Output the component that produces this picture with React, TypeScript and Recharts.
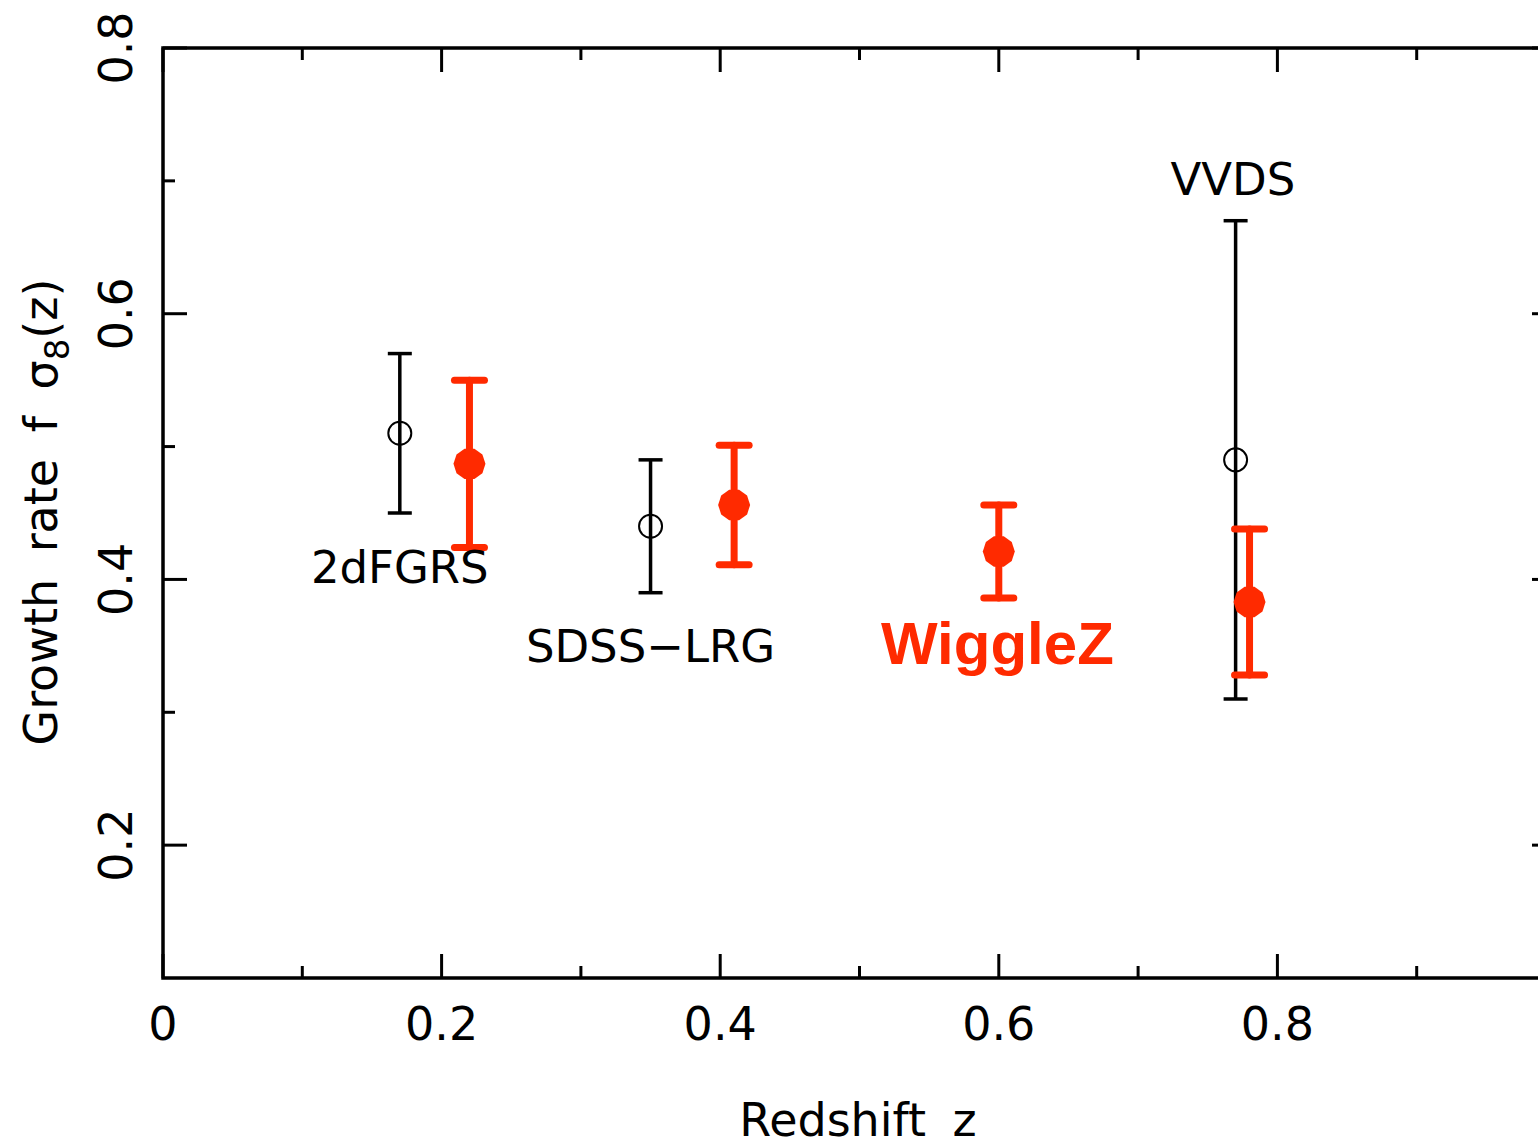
import React from 'react';
import { ScatterChart, Scatter, XAxis, YAxis, ErrorBar, ReferenceArea } from 'recharts';

// ---- data ----
// Earlier surveys (2dFGRS, SDSS-LRG, VVDS)
const priorZ = [0.17, 0.35, 0.77];
const priorFs8 = [0.51, 0.44, 0.49];
const priorErr = [0.06, 0.05, 0.18];

// WiggleZ measurements
const wigglezZ = [0.22, 0.41, 0.6, 0.78];
const wigglezFs8 = [0.487, 0.456, 0.421, 0.383];
const wigglezErr = [0.063, 0.045, 0.035, 0.055];

// Survey name annotations (anchor: text centre / baseline, in data units)
const surveyNames = ['2dFGRS', 'SDSS\u2212LRG', 'WiggleZ', 'VVDS'];
const surveyNameZ = [0.17, 0.35, 0.599, 0.768];
const surveyNameFs8 = [0.3975, 0.338, 0.336, 0.689];

// axis ticks
const xTicks = [0, 0.1, 0.2, 0.3, 0.4, 0.5, 0.6, 0.7, 0.8, 0.9];
const yTicks = [0.2, 0.3, 0.4, 0.5, 0.6, 0.7, 0.8];

// ---- layout ----
const W = 1560;
const H = 1147;
const MARGIN = { top: 48, right: 4, bottom: 0, left: 0 };
const Y_AXIS_W = 163;
const X_AXIS_H = 169;
const PLOT_LEFT = MARGIN.left + Y_AXIS_W;
const PLOT_RIGHT = W - MARGIN.right;
const PLOT_TOP = MARGIN.top;
const PLOT_BOTTOM = H - MARGIN.bottom - X_AXIS_H;

const RED = '#ff2a00';
const FONT = '"DejaVu Sans", sans-serif';
const FS = 46;

const priorData = priorZ.map((z, i) => ({ z, fs8: priorFs8[i], err: priorErr[i] }));
const wigglezData = wigglezZ.map((z, i) => ({ z, fs8: wigglezFs8[i], err: wigglezErr[i] }));
const nameData = surveyNames.map((name, i) => ({ name, z: surveyNameZ[i], fs8: surveyNameFs8[i] }));

const isMajor = (v: number) => Math.round(v * 10) % 2 === 0;
const fmt = (v: number) => (v === 0 ? '0' : v.toFixed(1));

const XTick = (props: any) => {
  const { x, payload } = props;
  const v = payload.value as number;
  const major = isMajor(v);
  const len = major ? 24 : 12;
  return (
    <g>
      <line x1={x} x2={x} y1={PLOT_BOTTOM} y2={PLOT_BOTTOM - len} stroke="#000" strokeWidth={3} />
      <line x1={x} x2={x} y1={PLOT_TOP} y2={PLOT_TOP + len} stroke="#000" strokeWidth={3} />
      {major && (
        <text x={x} y={1040} textAnchor="middle" fontFamily={FONT} fontSize={FS} fill="#000">
          {fmt(v)}
        </text>
      )}
    </g>
  );
};

const YTick = (props: any) => {
  const { y, payload } = props;
  const v = payload.value as number;
  const major = isMajor(v);
  const len = major ? 24 : 12;
  const bx = 132;
  return (
    <g>
      <line x1={PLOT_LEFT} x2={PLOT_LEFT + len} y1={y} y2={y} stroke="#000" strokeWidth={3} />
      <line x1={PLOT_RIGHT - len} x2={PLOT_RIGHT} y1={y} y2={y} stroke="#000" strokeWidth={3} />
      {major && (
        <text
          x={bx}
          y={y}
          transform={`rotate(-90, ${bx}, ${y})`}
          textAnchor="middle"
          fontFamily={FONT}
          fontSize={FS}
          fill="#000"
        >
          {fmt(v)}
        </text>
      )}
    </g>
  );
};

const xTitle = () => (
  <text
    x={858}
    y={1136}
    textAnchor="middle"
    fontFamily={FONT}
    fontSize={FS}
    wordSpacing={12}
    fill="#000"
  >
    Redshift z
  </text>
);

const yTitle = () => (
  <text
    x={57}
    y={512}
    transform="rotate(-90, 57, 512)"
    textAnchor="middle"
    fontFamily={FONT}
    fontSize={FS}
    wordSpacing={12}
    fill="#000"
  >
    Growth rate f σ
    <tspan fontSize={34} dy={12}>8</tspan>
    <tspan dy={-12}>(z)</tspan>
  </text>
);

const OpenCircle = (props: any) => {
  const { cx, cy } = props;
  return <circle cx={cx} cy={cy} r={11.5} fill="none" stroke="#000" strokeWidth={2} />;
};

const FilledDecagon = (props: any) => {
  const { cx, cy } = props;
  const r = 16;
  const pts = Array.from({ length: 10 }, (_, k) => {
    const a = (k * Math.PI) / 5;
    return `${cx + r * Math.cos(a)},${cy + r * Math.sin(a)}`;
  }).join(' ');
  return <polygon points={pts} fill={RED} stroke="none" />;
};

const SurveyName = (props: any) => {
  const { cx, cy, payload } = props;
  const wz = payload.name === 'WiggleZ';
  return (
    <text
      x={cx}
      y={cy}
      textAnchor="middle"
      fontFamily={wz ? '"Liberation Sans", Arial, sans-serif' : FONT}
      fontWeight={wz ? 'bold' : 'normal'}
      fontSize={wz ? 60 : 45}
      fill={wz ? RED : '#000'}
    >
      {payload.name}
    </text>
  );
};

export default function App() {
  return (
    <div
      style={{
        position: 'absolute',
        left: 0,
        top: 0,
        width: 1538,
        height: 1147,
        overflow: 'hidden',
        background: '#fff',
      }}
    >
      <ScatterChart width={W} height={H} margin={MARGIN}>
        <XAxis
          type="number"
          dataKey="z"
          domain={[0, 1]}
          ticks={xTicks}
          interval={0}
          tick={XTick}
          tickLine={false}
          axisLine={false}
          height={X_AXIS_H}
          label={xTitle}
          allowDataOverflow
        />
        <YAxis
          type="number"
          dataKey="fs8"
          domain={[0.1, 0.8]}
          ticks={yTicks}
          interval={0}
          tick={YTick}
          tickLine={false}
          axisLine={false}
          width={Y_AXIS_W}
          label={yTitle}
          allowDataOverflow
        />
        <ReferenceArea
          x1={0}
          x2={1}
          y1={0.1}
          y2={0.8}
          fill="none"
          fillOpacity={0}
          stroke="#000"
          strokeWidth={3.5}
          ifOverflow="visible"
        />
        <Scatter data={priorData} shape={OpenCircle} isAnimationActive={false}>
          <ErrorBar dataKey="err" direction="y" width={12} stroke="#000" strokeWidth={3.5} />
        </Scatter>
        <Scatter data={wigglezData} shape={FilledDecagon} isAnimationActive={false}>
          <ErrorBar
            dataKey="err"
            direction="y"
            width={15}
            stroke={RED}
            strokeWidth={7}
            strokeLinecap="round"
          />
        </Scatter>
        <Scatter data={nameData} shape={SurveyName} isAnimationActive={false} />
      </ScatterChart>
    </div>
  );
}
